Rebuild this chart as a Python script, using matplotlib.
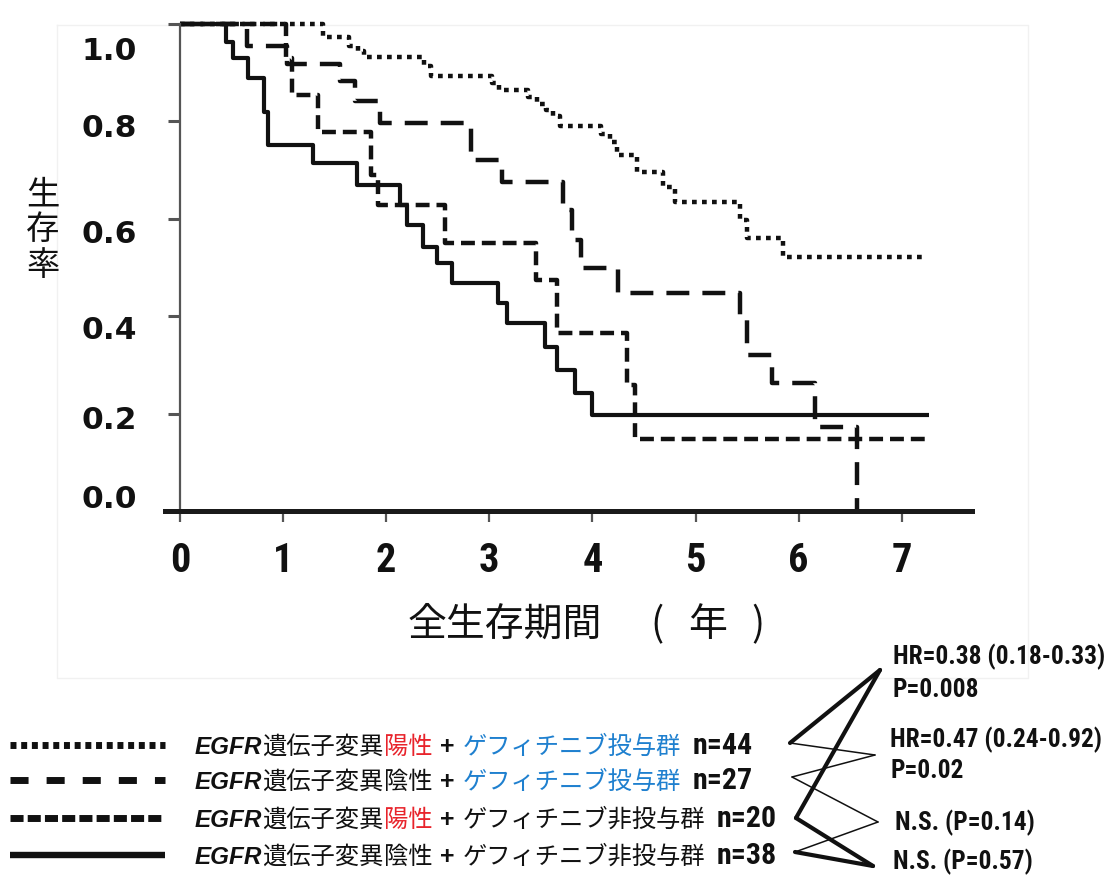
import matplotlib
matplotlib.use('Agg')
import matplotlib.pyplot as plt
from matplotlib import font_manager as fm
from matplotlib.transforms import ScaledTranslation

plt.rcParams['lines.scale_dashes'] = False

names = {f.name for f in fm.fontManager.ttflist}
NARROW = None
for cand in ['Liberation Sans Narrow', 'Arial Narrow', 'Roboto Condensed', 'Open Sans Condensed']:
    if cand in names:
        NARROW = cand
        break
SANS_B = 'Liberation Sans' if 'Liberation Sans' in names else 'DejaVu Sans'
if NARROW is None:
    NARROW = SANS_B
    NSCALE = 0.82   # shrink a regular-width face to keep the narrow text widths
else:
    NSCALE = 1.0
CJK = 'Noto Sans CJK JP'

# ---------------- data ----------------
years = [0, 1, 2, 3, 4, 5, 6, 7]
surv_ticks = [0.0, 0.2, 0.4, 0.6, 0.8, 1.0]

# 1: EGFR positive + gefitinib (n=44)
t_pos_gef = [1.39, 1.64, 1.73, 1.78, 2.37, 2.43, 3.03, 3.09, 3.38, 3.46, 3.55,
             3.62, 3.69, 4.08, 4.17, 4.24, 4.43, 4.68, 4.80, 5.43, 5.50, 5.85]
s_pos_gef = [0.973, 0.955, 0.945, 0.932, 0.914, 0.893, 0.879, 0.864, 0.850, 0.836, 0.823,
             0.811, 0.791, 0.774, 0.758, 0.731, 0.696, 0.665, 0.634, 0.598, 0.561, 0.522]
end_pos_gef = 7.25

# 2: EGFR negative + gefitinib (n=27)
t_neg_gef = [0.65, 1.04, 1.55, 1.70, 1.94, 2.82, 3.12, 3.71, 3.80, 3.89, 4.25,
             5.43, 5.50, 5.74, 6.16, 6.57]
s_neg_gef = [0.955, 0.918, 0.883, 0.842, 0.797, 0.721, 0.676, 0.618, 0.556, 0.499, 0.448,
             0.392, 0.320, 0.263, 0.172, 0.0]
end_neg_gef = 6.57

# 3: EGFR positive + no gefitinib (n=20)
t_pos_non = [1.03, 1.09, 1.34, 1.85, 1.92, 2.57, 3.45, 3.66, 4.34, 4.41]
s_pos_non = [0.930, 0.854, 0.778, 0.690, 0.628, 0.550, 0.474, 0.366, 0.259, 0.148]
end_pos_non = 7.25

# 4: EGFR negative + no gefitinib (n=38)
t_neg_non = [0.45, 0.51, 0.66, 0.81, 0.85, 1.29, 1.72, 2.13, 2.20, 2.36, 2.49, 2.64,
             3.08, 3.17, 3.54, 3.66, 3.83, 4.00]
s_neg_non = [0.963, 0.930, 0.889, 0.819, 0.752, 0.715, 0.669, 0.628, 0.587, 0.542, 0.509,
             0.468, 0.427, 0.386, 0.337, 0.290, 0.242, 0.197]
end_neg_non = 7.26

mutation_status = ['陽性', '陰性', '陽性', '陰性']
treatment = ['ゲフィチニブ投与群', 'ゲフィチニブ投与群', 'ゲフィチニブ非投与群', 'ゲフィチニブ非投与群']
n_patients = [44, 27, 20, 38]

stat_texts = [['HR=0.38 (0.18-0.33)', 'P=0.008'],
              ['HR=0.47 (0.24-0.92)', 'P=0.02'],
              ['N.S. (P=0.14)'],
              ['N.S. (P=0.57)']]
comparisons = [(0, 2), (0, 1), (1, 3), (2, 3)]   # group pairs for each stat

xlabel_text = '全生存期間'
xlabel_unit = ['(', '年', ')']
ylabel_text = ['生', '存', '率']

# ---------------- layout / style ----------------
W, H = 1112, 881
PX0, PXU = 180.0, 103.1      # pixel of t=0, pixels per year

BLACK = '#111111'
RED = '#e8232b'
BLUE = '#1f80cf'

fig = plt.figure(figsize=(W / 100, H / 100), dpi=100)
fig.patch.set_facecolor('white')

ov = fig.add_axes([0, 0, 1, 1], zorder=0)
ov.set_xlim(0, W)
ov.set_ylim(H, 0)
ov.axis('off')

ax_left, ax_right, ax_top, ax_bot = 165, 972, 24, 511
ax = fig.add_axes([ax_left / W, 1 - ax_bot / H, (ax_right - ax_left) / W, (ax_bot - ax_top) / H], zorder=1)
ax.patch.set_visible(False)
ax.set_xlim((ax_left - PX0) / PXU, (ax_right - PX0) / PXU)
ax.set_ylim(0, 1.0)

# faint frame of the original picture
ov.plot([57, 1028, 1028, 57, 57], [25, 25, 678, 678, 25], color='#f1f1f1', lw=1)

plot_styles = [
    dict(ls=(0, (3.4, 3.8)), lw=3.2),
    dict(ls=(0, (16.5, 9.4)), lw=3.2),
    dict(ls=(0, (10, 5)), lw=3.2),
    dict(ls='-', lw=3.0),
]
series = [
    (t_pos_gef, s_pos_gef, end_pos_gef),
    (t_neg_gef, s_neg_gef, end_neg_gef),
    (t_pos_non, s_pos_non, end_pos_non),
    (t_neg_non, s_neg_non, end_neg_non),
]
for (tt, ss, te), st in zip(series, plot_styles):
    xs = [0.0] + list(tt)
    ys = [1.0] + list(ss)
    if te > xs[-1]:
        xs.append(te)
        ys.append(ys[-1])
    ax.plot(xs, ys, drawstyle='steps-post', color=BLACK, clip_on=False,
            solid_capstyle='butt', dash_capstyle='butt', **st)

# axes styling
for s in ['top', 'right']:
    ax.spines[s].set_visible(False)
ax.spines['left'].set_position(('data', 0))
ax.spines['left'].set_color('#555555')
ax.spines['left'].set_linewidth(1.6)
ax.spines['bottom'].set_color('#1a1a1a')
ax.spines['bottom'].set_linewidth(3.6)

ax.set_xticks(years)
ax.set_xticklabels([str(v) for v in years])
ax.set_yticks(surv_ticks)
ax.set_yticklabels([f'{v:.1f}' for v in surv_ticks])
ax.tick_params(axis='x', direction='out', length=8, width=1.6, color='#555555', pad=14)
ax.tick_params(axis='y', direction='out', length=9, width=2.2, color='#555555', pad=22)
for lab in ax.get_xticklabels():
    lab.set_fontfamily(NARROW)
    lab.set_fontweight('bold')
    lab.set_fontsize(29 if NSCALE == 1.0 else 26)
    lab.set_color(BLACK)
ylab_shift_px = [-14, 4, 11, 13, 4, 24]  # downward pixel shifts of tick labels
for lab, dy in zip(ax.get_yticklabels(), ylab_shift_px):
    lab.set_fontfamily('DejaVu Sans')
    lab.set_fontweight('bold')
    lab.set_fontsize(22.5)
    lab.set_color(BLACK)
    lab.set_transform(lab.get_transform() + ScaledTranslation(0, -dy / 100, fig.dpi_scale_trans))

# axis titles
ov.text(505, 625, xlabel_text, fontfamily=CJK, fontsize=28, ha='center', va='center', color=BLACK)
for ch, x in zip(xlabel_unit, [657, 708, 758]):
    ov.text(x, 625, ch, fontfamily=CJK, fontsize=28, ha='center', va='center', color=BLACK)
for ch, y in zip(ylabel_text, [195, 230, 265]):
    ov.text(43, y, ch, fontfamily=CJK, fontsize=24, ha='center', va='center', color=BLACK)

# legend
legend_ys = [745, 780, 818, 855]
legend_styles = [
    dict(ls=(0, (4.3, 3.4)), lw=5.0),
    dict(ls=(0, (13, 13)), lw=5.0),
    dict(ls=(0, (9.4, 3.0)), lw=5.0),
    dict(ls='-', lw=4.6),
]
renderer = fig.canvas.get_renderer()


def put(x, y, txt, **kw):
    t = ov.text(x, y, txt, ha='left', va='baseline', **kw)
    return x + t.get_window_extent(renderer).width


f_egfr = dict(fontfamily=SANS_B, fontweight='bold', fontstyle='italic', fontsize=17.5, color=BLACK)
f_cjk = dict(fontfamily=CJK, fontsize=17.5)
f_plus = dict(fontfamily=SANS_B, fontweight='bold', fontsize=18, color=BLACK)
f_n = dict(fontfamily=NARROW, fontweight='bold', fontsize=21.5 * NSCALE, color=BLACK)

for i, y in enumerate(legend_ys):
    ov.plot([10, 165], [y, y], color=BLACK, solid_capstyle='butt', dash_capstyle='butt', **legend_styles[i])
    yb = y + 9
    x = put(195, yb, 'EGFR', **f_egfr)
    x = put(x, yb, '遺伝子変異', color=BLACK, **f_cjk)
    x = put(x, yb, mutation_status[i], color=RED if mutation_status[i] == '陽性' else BLACK, **f_cjk)
    x = put(x + 8, yb, '+', **f_plus)
    x = put(x + 8, yb, treatment[i], color=BLUE if '非' not in treatment[i] else BLACK, **f_cjk)
    x = put(x + 12, yb, f'n={n_patients[i]}', **f_n)

# comparison connectors
left_pts = [(790, 743), (792, 777), (796, 818), (795, 852)]
vertex_pts = [(880, 670), (875, 755), (878, 822), (873, 866)]
thick = [True, False, False, True]
for k, (a, b) in enumerate(comparisons):
    vx, vy = vertex_pts[k]
    lw = 3.0 if thick[k] else 1.1
    for g in (a, b):
        gx, gy = left_pts[g]
        ov.plot([gx, vx], [gy, vy], color=BLACK, lw=lw, solid_capstyle='round')

stat_pos = [[(893, 657), (893, 690)], [(890, 740), (890, 771)], [(895, 823)], [(893, 862)]]
f_stat = dict(fontfamily=NARROW, fontweight='bold', fontsize=18.3 * NSCALE, color=BLACK)
for lines, poss in zip(stat_texts, stat_pos):
    for txt, (x, y) in zip(lines, poss):
        ov.text(x, y, txt, ha='left', va='center', **f_stat)

fig.savefig('out.png', dpi=100, facecolor='white')
